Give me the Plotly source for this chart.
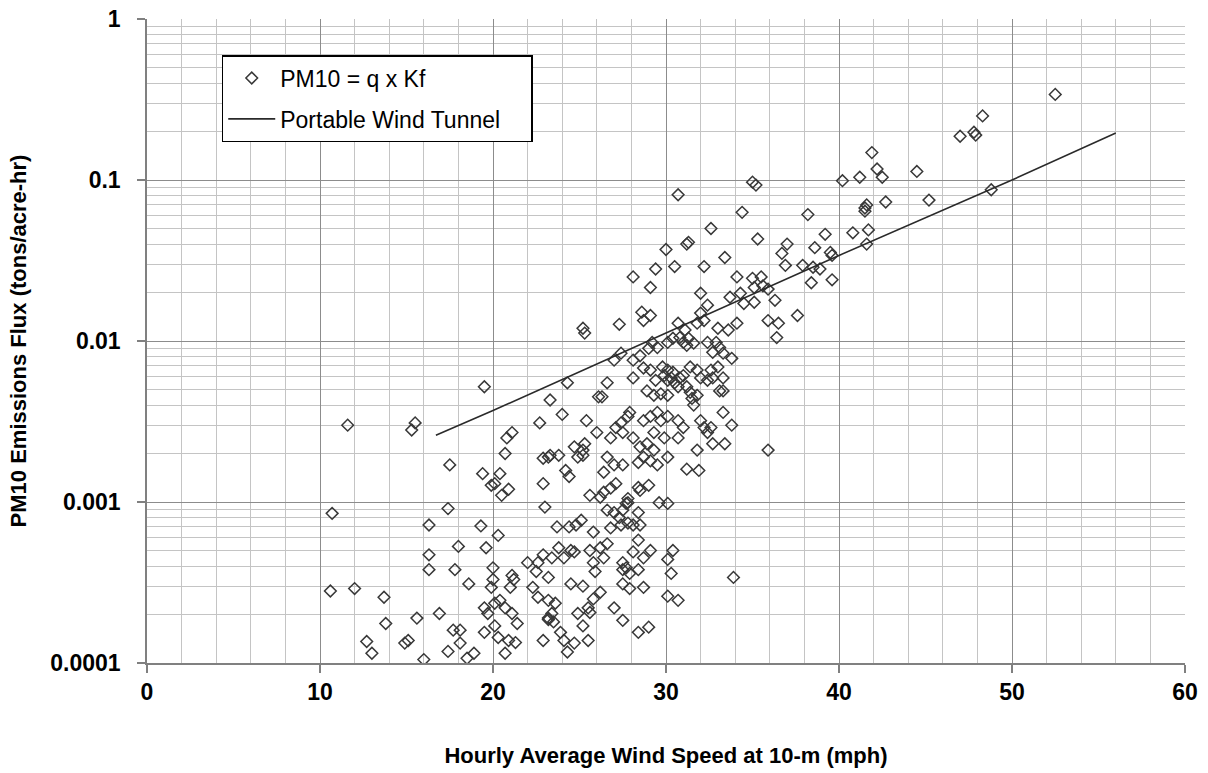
import plotly.graph_objects as go

# ---- data (wind speed in mph, PM10 flux in tons/acre-hr) ----
speed_a = [10.7, 10.6, 11.6, 12.0, 12.7, 13.0, 13.7, 13.8, 14.9, 15.1,
           15.3, 15.5, 15.6, 16.0, 16.3, 16.3, 16.3, 16.9, 17.4, 17.4,
           17.5, 17.7, 17.8, 18.0, 18.1, 18.1, 18.5, 18.6, 18.9, 19.3,
           19.4, 19.5, 19.5, 19.5, 19.6, 19.7, 19.9, 19.9, 20.0, 20.0,
           20.1, 20.1, 20.1, 20.3, 20.3, 20.4, 20.4, 20.5, 20.8, 20.7,
           20.7, 20.7, 20.9, 20.9, 21.0, 21.1, 21.1, 21.1, 21.2, 21.3,
           21.4, 22.0, 22.3, 22.5, 22.6, 22.6, 22.7, 22.9, 22.9, 22.9,
           22.9, 23.0, 23.2, 23.2, 23.2, 23.2, 23.2, 23.3, 23.3, 23.4,
           23.4, 23.5, 23.6, 23.7, 23.8, 23.8]
flux_a = [0.00085, 0.00028, 0.0030, 0.00029, 0.000136, 0.000115, 0.000256, 0.000176, 0.000133, 0.000138,
          0.0028, 0.0031, 0.00019, 0.000105, 0.00072, 0.00047, 0.00038, 0.000203, 0.000118, 0.00091,
          0.0017, 0.00016, 0.00038, 0.00053, 0.000133, 0.00016, 0.000107, 0.00031, 0.000115, 0.00071,
          0.0015, 0.0052, 0.00022, 0.000155, 0.00052, 0.000203, 0.00127, 0.000295, 0.00039, 0.00033,
          0.0013, 0.000235, 0.00017, 0.00062, 0.000144, 0.0015, 0.000245, 0.0011, 0.0025, 0.0020,
          0.00022, 0.000115, 0.0012, 0.000138, 0.000295, 0.0027, 0.00035, 0.000203, 0.00033, 0.000134,
          0.000176, 0.00042, 0.000295, 0.00037, 0.00042, 0.000256, 0.0031, 0.00187, 0.0013, 0.000138,
          0.00047, 0.00093, 0.00034, 0.000245, 0.00019, 0.0019, 0.000186, 0.0043, 0.00195, 0.00045,
          0.000203, 0.00018, 0.000235, 0.0007, 0.00195, 0.00052]

speed_b = [24.0, 24.3, 24.2, 24.4, 24.7, 24.9, 25.2, 25.3, 25.2, 25.2,
           25.3, 25.4, 26.0, 26.1, 26.3, 26.6, 29.1, 32.0, 28.6, 29.1,
           28.7, 27.3, 30.7, 32.0, 32.2, 31.8, 32.4, 33.0, 33.6, 34.1,
           33.7, 34.3, 34.5, 35.1, 31.1, 31.3, 31.0, 31.6, 31.2, 30.8,
           30.4, 30.1, 29.2, 29.0, 29.5, 32.4, 32.9, 33.1, 32.7, 33.3,
           33.8, 27.0, 27.4, 28.1, 28.5, 28.7, 29.1, 29.4, 29.8, 30.1,
           29.9, 30.3, 30.4, 30.1, 30.5, 30.8, 31.0, 30.7, 31.2, 31.4,
           31.4, 31.8, 32.0, 32.4, 32.7, 32.6, 33.0, 33.1, 31.5, 31.8,
           31.6, 28.1, 28.9, 29.3, 29.7, 30.1, 27.9, 27.8, 27.4, 27.1,
           26.8, 27.5, 28.1, 28.7, 29.1, 29.5, 29.7, 30.1, 30.7, 31.0,
           29.3, 29.9, 30.7, 32.0, 32.2, 32.4, 32.6, 33.3, 33.8, 32.7,
           33.4, 31.8, 28.5, 28.9, 29.3, 28.7, 29.1, 29.5, 30.1, 28.4,
           26.6, 27.0, 27.5, 31.2, 31.9, 28.1, 29.4, 30.0, 30.5, 30.7,
           31.2, 31.3, 32.2, 32.6, 33.4, 34.4, 35.0, 35.2, 35.3, 34.1,
           35.0, 35.5, 35.1, 33.3, 33.3]
flux_b = [0.0035, 0.0055, 0.00157, 0.00144, 0.0022, 0.0019, 0.0021, 0.0023, 0.00195, 0.012,
          0.0112, 0.0032, 0.0027, 0.0045, 0.0045, 0.0055, 0.0215, 0.0198, 0.0151, 0.0144,
          0.0134, 0.0127, 0.0129, 0.0149, 0.0134, 0.0129, 0.0167, 0.012, 0.0117, 0.0129,
          0.0187, 0.0198, 0.0171, 0.0174, 0.0117, 0.0104, 0.0098, 0.0097, 0.0094, 0.0105,
          0.0104, 0.0098, 0.0098, 0.009, 0.0091, 0.0098, 0.0098, 0.0091, 0.0085, 0.0084,
          0.0078, 0.0076, 0.0084, 0.0076, 0.0081, 0.0068, 0.0066, 0.0057, 0.0069, 0.0066,
          0.0061, 0.0059, 0.0064, 0.0057, 0.0055, 0.0059, 0.0061, 0.0052, 0.0052, 0.0048,
          0.0069, 0.0066, 0.0059, 0.0057, 0.0059, 0.0066, 0.0069, 0.0049, 0.0044, 0.0046,
          0.004, 0.0059, 0.0049, 0.0046, 0.0047, 0.0046, 0.0036, 0.0034, 0.0031, 0.0029,
          0.0025, 0.0027, 0.0025, 0.0032, 0.0034, 0.0036, 0.0032, 0.0034, 0.0032, 0.0029,
          0.0027, 0.0025, 0.0025, 0.0032, 0.0029, 0.0027, 0.0029, 0.0036, 0.003, 0.0023,
          0.0023, 0.0021, 0.0022, 0.0023, 0.0021, 0.0019, 0.0018, 0.0017, 0.0019, 0.00176,
          0.0019, 0.0017, 0.0017, 0.0016, 0.00157, 0.025, 0.028, 0.037, 0.029, 0.081,
          0.040, 0.041, 0.029, 0.050, 0.033, 0.063, 0.097, 0.093, 0.043, 0.025,
          0.0245, 0.025, 0.0215, 0.0059, 0.0049]

speed_c = [26.4, 25.6, 26.2, 26.4, 26.8, 27.1, 28.4, 29.0, 28.5, 27.8,
           27.8, 27.7, 29.6, 30.1, 26.6, 27.0, 27.5, 27.3, 28.4, 27.8,
           28.1, 28.5, 27.4, 24.4, 24.8, 25.1, 25.8, 26.8, 28.4, 26.6,
           26.2, 25.6, 24.5, 24.1, 24.7, 28.1, 29.1, 28.7, 30.4, 30.1,
           26.4, 25.8, 25.9, 27.5, 27.7, 27.5, 27.9, 28.4, 30.3, 24.5,
           25.2, 27.5, 27.9, 28.7, 30.1, 30.7, 26.2, 25.8, 25.5, 25.6,
           24.9, 27.0, 27.5, 25.2, 25.5, 28.4, 29.0, 23.9, 24.1, 24.7,
           24.3, 33.9]
flux_c = [0.00153, 0.0011, 0.00107, 0.00115, 0.00122, 0.0013, 0.00123, 0.00127, 0.00118, 0.00105,
          0.00099, 0.00098, 0.00099, 0.00098, 0.00089, 0.00086, 0.00089, 0.0008, 0.00086, 0.00074,
          0.00072, 0.00072, 0.00072, 0.0007, 0.00072, 0.00077, 0.00065, 0.00069, 0.00058, 0.00055,
          0.00052, 0.0005, 0.0005, 0.00045, 0.00049, 0.00049, 0.0005, 0.00045, 0.0005, 0.00044,
          0.00045, 0.00042, 0.00037, 0.00042, 0.00039, 0.00038, 0.00036, 0.00038, 0.00036, 0.00031,
          0.0003, 0.00031, 0.00029, 0.000295, 0.00026, 0.000245, 0.000275, 0.00025, 0.00022, 0.000206,
          0.000203, 0.00022, 0.000184, 0.00017, 0.000138, 0.000155, 0.000167, 0.000155, 0.000138, 0.000133,
          0.000117, 0.00034]

speed_d = [52.5, 48.3, 47.8, 47.9, 47.0, 41.9, 42.2, 42.5, 41.2, 40.2,
           44.5, 45.2, 48.8, 42.7, 41.6, 41.5, 41.5, 38.2, 39.2, 38.6,
           39.5, 39.6, 40.8, 41.7, 41.6, 37.9, 38.5, 38.9, 38.4, 39.6,
           37.6, 37.0, 36.7, 36.9, 35.6, 35.9, 35.9, 36.3, 36.5, 36.4,
           35.9]
flux_d = [0.34, 0.25, 0.198, 0.19, 0.187, 0.148, 0.117, 0.104, 0.104, 0.099,
          0.113, 0.075, 0.087, 0.073, 0.07, 0.067, 0.064, 0.061, 0.046, 0.038,
          0.0355, 0.034, 0.047, 0.049, 0.040, 0.0295, 0.0287, 0.028, 0.023, 0.024,
          0.0144, 0.040, 0.035, 0.0295, 0.022, 0.021, 0.0134, 0.0179, 0.0129, 0.0105,
          0.0021]

tunnel_speed = [16.7, 20.0, 30.0, 40.0, 50.0, 56.0]
tunnel_flux = [0.0026, 0.0037, 0.0112, 0.034, 0.1, 0.196]

x_ticks = [0, 10, 20, 30, 40, 50, 60]
y_ticks = [0.0001, 0.001, 0.01, 0.1, 1]
y_tick_text = ["0.0001", "0.001", "0.01", "0.1", "1"]
y_minor = [m * d for d in (0.0001, 0.001, 0.01, 0.1) for m in range(2, 10)]

speed = speed_a + speed_b + speed_c + speed_d
flux = flux_a + flux_b + flux_c + flux_d
assert len(speed) == len(flux)

FONT = "Arial, Liberation Sans, sans-serif"
TICKFONT = dict(family=FONT, size=23, color="black", weight="bold")
PAD = "\u00a0" * 4  # keeps the legend box as wide as in the reference

fig = go.Figure()
fig.add_trace(go.Scatter(
    x=speed, y=flux, mode="markers", name="PM10 = q x Kf", legendgroup="a",
    marker=dict(symbol="diamond-open", size=9, color="#383838", line=dict(width=1.5)),
))
fig.add_trace(go.Scatter(
    x=tunnel_speed, y=tunnel_flux, mode="lines", name="Portable Wind Tunnel" + PAD, legendgroup="b",
    line=dict(color="#2a2a2a", width=1.6),
))

fig.update_layout(
    width=1208, height=773,
    margin=dict(l=147, r=23, t=19, b=110, autoexpand=False),
    paper_bgcolor="white", plot_bgcolor="white",
    font=dict(family=FONT, color="black"),
    showlegend=True,
    legend=dict(
        x=0.072, y=0.944, xanchor="left", yanchor="top",
        bgcolor="white", bordercolor="black", borderwidth=1.5,
        font=dict(family=FONT, size=23, color="black"),
        tracegroupgap=8, itemwidth=47,
    ),
    xaxis=dict(
        range=[0, 60], tickvals=x_ticks, automargin=False,
        showgrid=True, gridcolor="#8c8c8c", gridwidth=1.2,
        minor=dict(dtick=2, showgrid=True, gridcolor="#c4c4c4", gridwidth=1.2),
        ticks="outside", ticklen=8, tickcolor="#808080", tickwidth=1.5,
        showline=True, linecolor="#808080", linewidth=1.5, zeroline=False,
        tickfont=TICKFONT, ticklabeloverflow="allow",
        title=dict(text="Hourly Average Wind Speed at 10-m (mph)", standoff=43,
                   font=dict(family=FONT, size=22, color="black", weight="bold")),
    ),
    yaxis=dict(
        type="log", range=[-4, 0], tickvals=y_ticks, ticktext=y_tick_text, automargin=False,
        showgrid=True, gridcolor="#8c8c8c", gridwidth=1.2,
        minor=dict(tickvals=y_minor, showgrid=True, gridcolor="#c4c4c4", gridwidth=1.2),
        ticks="outside", ticklen=8, tickcolor="#808080", tickwidth=1.5,
        ticklabelstandoff=12, ticklabeloverflow="allow",
        showline=True, linecolor="#808080", linewidth=1.5, zeroline=False,
        tickfont=TICKFONT,
        title=dict(text="PM10 Emissions Flux (tons/acre-hr)", standoff=18,
                   font=dict(family=FONT, size=22, color="black", weight="bold")),
    ),
)

# remove the default page margin so the figure sits at the window's top-left corner
fig.write_html("out.html", config={"displayModeBar": False},
               post_script="document.body.style.margin='0';")
